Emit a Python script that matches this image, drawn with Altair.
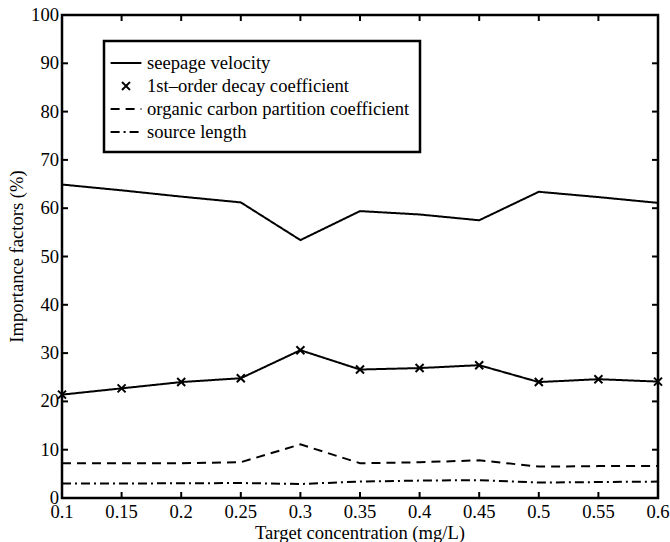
import altair as alt
import pandas as pd

# ---- data ----
x_values = [0.1, 0.15, 0.2, 0.25, 0.3, 0.35, 0.4, 0.45, 0.5, 0.55, 0.6]
seepage_velocity = [64.9, 63.7, 62.4, 61.2, 53.4, 59.4, 58.7, 57.5, 63.4, 62.3, 61.1]
decay_coefficient = [21.4, 22.7, 24.0, 24.8, 30.6, 26.6, 26.9, 27.5, 24.0, 24.6, 24.1]
organic_carbon = [7.2, 7.2, 7.2, 7.4, 11.1, 7.2, 7.4, 7.8, 6.5, 6.6, 6.6]
source_length = [3.0, 3.0, 3.05, 3.1, 2.9, 3.4, 3.6, 3.7, 3.2, 3.3, 3.4]
series_names = [
    "seepage velocity",
    "1st\u2013order decay coefficient",
    "organic carbon partition coefficient",
    "source length",
]
x_ticks = [0.1, 0.15, 0.2, 0.25, 0.3, 0.35, 0.4, 0.45, 0.5, 0.55, 0.6]
y_ticks = [0, 10, 20, 30, 40, 50, 60, 70, 80, 90, 100]
x_title = "Target concentration (mg/L)"
y_title = "Importance factors (%)"

rows = []
for name, vals in zip(series_names, [seepage_velocity, decay_coefficient, organic_carbon, source_length]):
    for xv, yv in zip(x_values, vals):
        rows.append({"x": xv, "y": yv, "series": name})
df = pd.DataFrame(rows)
xt_df = pd.DataFrame({"x": x_ticks})
yt_df = pd.DataFrame({"y": y_ticks})

FONT = "Liberation Serif"
FS = 18.6
W, H = 596, 483
TICK = 6
dash_styles = [[1, 0], [1, 0], [9, 6], [9, 4, 2, 4]]
x_scale = alt.Scale(domain=[0.1, 0.6], nice=False, zero=False)
y_scale = alt.Scale(domain=[0, 100], nice=False, zero=False)
dash_scale = alt.Scale(domain=series_names, range=dash_styles)
line_sym = "M-1.4,0L1.4,0"
cross_sym = "M-0.36,-0.36L0.36,0.36M-0.36,0.36L0.36,-0.36"
shape_scale = alt.Scale(domain=series_names, range=[line_sym, cross_sym, line_sym, line_sym])


def ex():
    return alt.X("x:Q", scale=x_scale, axis=None)


def ey():
    return alt.Y("y:Q", scale=y_scale, axis=None)


layers = []
for i, name in enumerate(series_names):
    layers.append(
        alt.Chart(df).transform_filter(alt.datum.series == name)
        .mark_line(color="black", strokeWidth=2, strokeDash=dash_styles[i])
        .encode(x=ex(), y=ey())
    )

markers = alt.Chart(df).transform_filter(
    alt.datum.series == series_names[1]
).mark_point(
    shape="M-1,-1L1,1M-1,1L1,-1", size=64, strokeWidth=2, color="black", filled=False, opacity=1
).encode(x=ex(), y=ey())
layers.append(markers)

# inward tick marks on all four sides (MATLAB style box)
for ypix in [H - TICK / 2, TICK / 2]:
    layers.append(
        alt.Chart(xt_df).mark_tick(orient="vertical", size=TICK, thickness=2, color="black", opacity=1)
        .encode(x=ex(), y=alt.value(ypix))
    )
for xpix in [TICK / 2, W - TICK / 2]:
    layers.append(
        alt.Chart(yt_df).mark_tick(orient="horizontal", size=TICK, thickness=2, color="black", opacity=1)
        .encode(y=ey(), x=alt.value(xpix))
    )

# tick labels and axis titles
layers.append(
    alt.Chart(xt_df).mark_text(font=FONT, fontSize=FS, color="black", align="center", baseline="top")
    .encode(x=ex(), y=alt.value(H + 5), text=alt.Text("x:Q", format="~g"))
)
layers.append(
    alt.Chart(yt_df).mark_text(font=FONT, fontSize=FS, color="black", align="right", baseline="middle")
    .encode(y=ey(), x=alt.value(-3), text=alt.Text("y:Q", format="~g"))
)
layers.append(
    alt.Chart(pd.DataFrame({"t": [x_title]}))
    .mark_text(font=FONT, fontSize=FS, color="black", align="center", baseline="top")
    .encode(x=alt.value(W / 2), y=alt.value(H + 26), text="t:N")
)
layers.append(
    alt.Chart(pd.DataFrame({"t": [y_title]}))
    .mark_text(font=FONT, fontSize=FS, color="black", align="center", baseline="bottom", angle=270)
    .encode(x=alt.value(-35), y=alt.value(H / 2), text="t:N")
)

legend_layer = alt.Chart(df).mark_point(color="black", filled=False, opacity=0).encode(
    x=ex(),
    y=ey(),
    shape=alt.Shape("series:N", scale=shape_scale,
                    legend=alt.Legend(title=None, labelFont=FONT, labelFontSize=FS)),
    strokeDash=alt.StrokeDash("series:N", scale=dash_scale,
                              legend=alt.Legend(title=None, labelFont=FONT, labelFontSize=FS)),
)
layers.append(legend_layer)

chart = alt.layer(*layers).properties(
    width=W,
    height=H,
    autosize=alt.AutoSizeParams(type="none"),
    padding={"left": 62, "top": 15, "right": 12, "bottom": 44},
    background="white",
).configure(
    font=FONT
).configure_view(
    stroke="black", strokeWidth=2.5
).configure_legend(
    orient="none", legendX=42, legendY=26,
    strokeColor="black", strokeWidth=2.5, fillColor="white", padding=10,
    labelFont=FONT, labelFontSize=FS, labelColor="black", labelLimit=500, labelOffset=9,
    symbolSize=484, symbolStrokeWidth=2, symbolStrokeColor="black", symbolOpacity=1,
    symbolFillColor="transparent", rowPadding=1,
)

chart.save("out.html", embed_options={"renderer": "svg", "actions": False})
